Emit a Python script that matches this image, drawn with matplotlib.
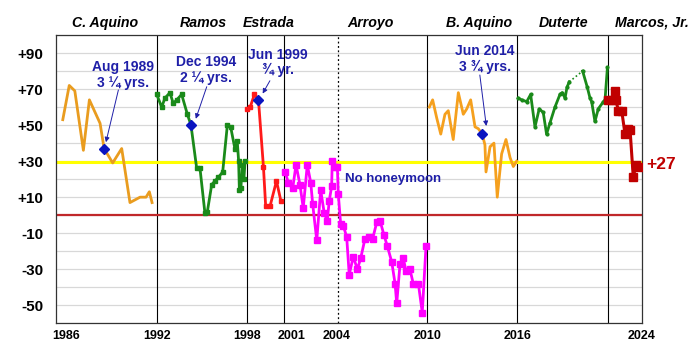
import matplotlib
matplotlib.use("Agg")
import matplotlib.pyplot as plt
import matplotlib.transforms as mtransforms

plt.rcParams['font.family'] = ['Liberation Sans', 'DejaVu Sans']

# ---------------- data ----------------
caquino_x = [1985.75, 1986.18, 1986.55, 1987.12, 1987.52, 1988.23, 1988.5, 1989.07, 1989.67,
             1990.22, 1990.89, 1991.29, 1991.51, 1991.69]
caquino_y = [53, 72, 69, 36, 64, 51, 37, 29, 37, 7, 10, 10, 13, 7]

ramos_x = [1992.0, 1992.33, 1992.55, 1992.88, 1993.1, 1993.33, 1993.66, 1994.04, 1994.28,
           1994.66, 1994.88, 1995.21, 1995.37, 1995.66, 1995.88, 1996.1, 1996.39, 1996.7,
           1996.92, 1997.2, 1997.36, 1997.45, 1997.5, 1997.6, 1997.7, 1997.8, 1997.88]
ramos_y = [67, 60, 65, 68, 62, 64, 67, 56, 50, 26, 26, 1, 2, 17, 19, 21, 24, 50,
           49, 37, 41, 30, 14, 15, 28, 20, 30]

estrada_x = [1997.99, 1998.22, 1998.5, 1998.77, 1999.1, 1999.25, 1999.54, 1999.97, 2000.26]
estrada_y = [59, 60, 67, 64, 27, 5, 5, 19, 8]

arroyo_x = [2000.54, 2000.76, 2001.05, 2001.27, 2001.53, 2001.75, 2002.02, 2002.25, 2002.38,
            2002.65, 2002.91, 2003.15, 2003.35, 2003.48, 2003.64, 2003.68, 2003.86, 2004.02,
            2004.08, 2004.24, 2004.42, 2004.64, 2004.81, 2005.08, 2005.35, 2005.57, 2005.86,
            2006.13, 2006.37, 2006.64, 2006.86, 2007.12, 2007.34, 2007.64, 2007.86, 2007.97,
            2008.19, 2008.41, 2008.59, 2008.85, 2009.07, 2009.41, 2009.67, 2009.92]
arroyo_y = [24, 18, 15, 28, 17, 4, 28, 18, 6,
            -14, 14, 1, -3, 8, 16, 30, 27, 27,
            12, -5, -6, -12, -33, -23, -30, -24, -13,
            -12, -13, -4, -3, -11, -17, -26, -38, -49,
            -27, -24, -31, -30, -38, -38, -54, -17]

baquino_x = [2010.14, 2010.36, 2010.63, 2010.9, 2011.18, 2011.4, 2011.73, 2012.07, 2012.4,
             2012.63, 2012.89, 2013.18, 2013.4, 2013.66, 2013.84, 2013.91, 2014.18, 2014.44,
             2014.66, 2014.95, 2015.24, 2015.51, 2015.73, 2015.95]
baquino_y = [60, 64, 54, 45, 56, 58, 42, 68, 56, 59, 64, 49, 48, 45, 39, 24, 38, 40,
             10, 34, 42, 32, 27, 30]

duterte1_x = [2016.06, 2016.28, 2016.62, 2016.88, 2017.17, 2017.45, 2017.72, 2017.94, 2018.16,
              2018.5, 2018.83, 2018.98, 2019.17, 2019.3, 2019.45]
duterte1_y = [65, 64, 63, 67, 49, 59, 57, 45, 51, 60, 67, 68, 65, 71, 74]
duterte2_x = [2020.34, 2020.65, 2020.83, 2020.94, 2021.16, 2021.38, 2021.72, 2021.83, 2021.99]
duterte2_y = [80, 71, 65, 63, 52, 59, 63, 64, 82]

marcos_x = [2022.05, 2022.27, 2022.49, 2022.56, 2022.71, 2022.94, 2023.16, 2023.38, 2023.5,
            2023.71, 2023.89, 2024.1]
marcos_y = [64, 64, 69, 64, 58, 58, 45, 48, 47, 21, 28, 27]

# honeymoon-end markers (x, y) and labels
hm_x = [1988.5, 1994.28, 1998.77, 2013.66]
hm_y = [37, 50, 64, 45]
hm_labels = ["Aug 1989\n3 \u00bc yrs.", "Dec 1994\n2 \u00bc yrs.", "Jun 1999\n\u00be yr.",
             "Jun 2014\n3 \u00be yrs."]
hm_text_x = [1989.74, 1995.28, 2000.05, 2013.84]
hm_text_y = [77.8, 80.6, 84.7, 86.8]
hm_arrow_from = [(1989.45, 69.5), (1995.33, 71.3), (1999.53, 74.6), (2013.5, 77.8)]
hm_arrow_to = [(1988.62, 40.5), (1994.6, 53.5), (1999.05, 67.5), (2013.93, 49.5)]

presidents = ["C. Aquino", "Ramos", "Estrada", "Arroyo", "B. Aquino", "Duterte", "Marcos, Jr."]
pres_label_x = [1988.57, 1995.08, 1999.47, 2006.2, 2013.45, 2019.1, 2024.95]
term_lines = [1992, 1998, 2000.49, 2010, 2016, 2022]
dotted_line = 2004.04

xtick_pos = [1986, 1992, 1998, 2001, 2004, 2010, 2016, 2024.27]
xtick_lab = ["1986", "1992", "1998", "2001", "2004", "2010", "2016", "2024"]
ytick_pos = [90, 70, 50, 30, 10, -10, -30, -50]
ytick_lab = ["+90", "+70", "+50", "+30", "+10", "-10", "-30", "-50"]

# ---------------- figure ----------------
fig = plt.figure(figsize=(7, 3.6), dpi=100)
ax = fig.add_axes([0.0796, 0.1019, 0.9167 - 0.0796, 0.9028 - 0.1019])
ax.set_xlim(1985.28, 2024.27)
ax.set_ylim(-60, 100)

for yv in range(-60, 101, 10):
    ax.axhline(yv, color='#D8D8D8', lw=0.9, zorder=0.5)

for xv in term_lines:
    ax.axvline(xv, color='black', lw=0.8, zorder=1)
ax.axvline(dotted_line, color='black', lw=0.9, ls=(0, (1.5, 2)), zorder=1)

ax.axhline(0, color='#C0282A', lw=1.6, zorder=1.2)
ax.axhline(29.5, color='#FFFF00', lw=2.2, zorder=1.3)

orange = '#E99C1F'
green = '#1A8A1A'
ax.plot(caquino_x, caquino_y, color=orange, lw=2.0, zorder=3)
ax.plot(ramos_x, ramos_y, color=green, lw=2.0, marker='s', ms=3.0, zorder=3)
ax.plot(estrada_x, estrada_y, color='#FF1A1A', lw=2.0, marker='s', ms=2.6, zorder=3)
ax.plot(arroyo_x, arroyo_y, color='#FF00FF', lw=2.0, marker='s', ms=3.8, zorder=3)
ax.plot(baquino_x, baquino_y, color='#F5A01E', lw=2.0, zorder=3)
ax.plot(duterte1_x, duterte1_y, color=green, lw=2.0, marker='o', ms=2.0, zorder=3)
ax.plot([duterte1_x[-1], duterte2_x[0]], [duterte1_y[-1], duterte2_y[0]],
        color=green, lw=1.2, ls=(0, (1, 1.5)), zorder=3)
ax.plot(duterte2_x, duterte2_y, color=green, lw=2.0, marker='o', ms=2.0, zorder=3)
ax.plot(marcos_x, marcos_y, color='#C00000', lw=2.2, marker='s', ms=5.2, zorder=3)

navy = '#1F1FA8'
ax.plot(hm_x, hm_y, linestyle='none', marker='D', ms=5.5, color='#0A14C0', zorder=4)
for lab, tx, ty, a0, a1 in zip(hm_labels, hm_text_x, hm_text_y, hm_arrow_from, hm_arrow_to):
    ax.text(tx, ty, lab, ha='center', va='center', color=navy, fontsize=10,
            fontweight='bold', linespacing=1.15, zorder=5)
    ax.annotate('', xy=a1, xytext=a0,
                arrowprops=dict(arrowstyle='-|>', color=navy, lw=0.7, mutation_scale=7,
                                shrinkA=0, shrinkB=0), zorder=5)

ax.text(2004.53, 19.9, "No honeymoon", ha='left', va='center', color=navy, fontsize=9.5,
        fontweight='bold', zorder=5)
ax.text(2024.56, 28.2, "+27", ha='left', va='center', color='#C00000', fontsize=12.5,
        fontweight='bold', clip_on=False, zorder=5)

trans = mtransforms.blended_transform_factory(ax.transData, ax.transAxes)
for name, px in zip(presidents, pres_label_x):
    ax.text(px, 1.043, name, transform=trans, ha='center', va='center', fontsize=10.2,
            fontweight='bold', fontstyle='italic', clip_on=False)

ax.set_xticks(xtick_pos)
ax.set_xticklabels(xtick_lab, fontsize=9, fontweight='bold')
ax.set_yticks(ytick_pos)
ax.set_yticklabels(ytick_lab, fontsize=11, fontweight='bold')
ax.tick_params(axis='x', length=0, pad=5)
ax.tick_params(axis='y', length=0, pad=9)
for s in ax.spines.values():
    s.set_color('#333333')
    s.set_linewidth(0.9)

fig.savefig('out.png', dpi=100)
